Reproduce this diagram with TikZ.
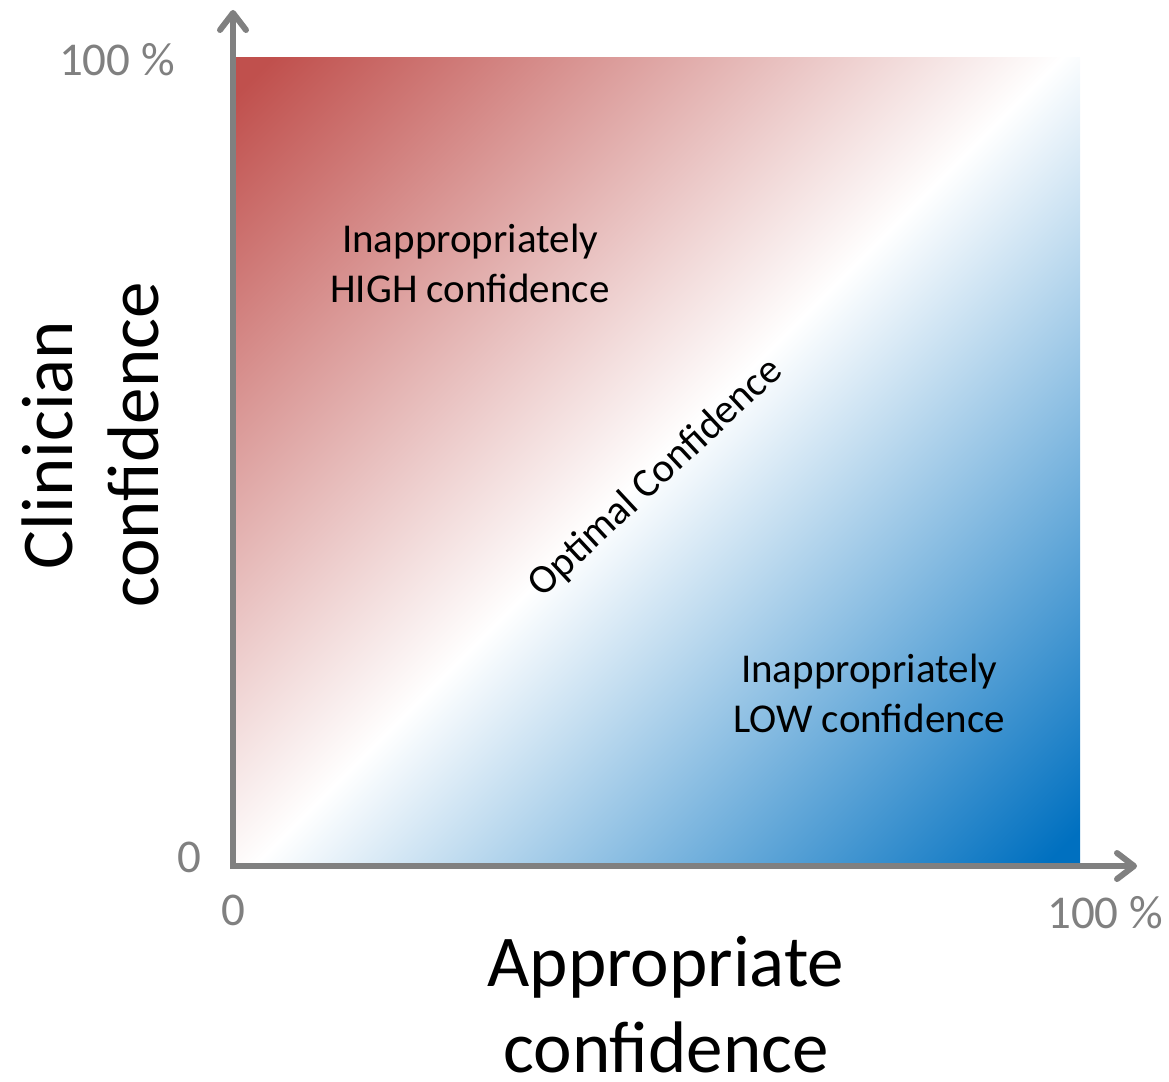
\documentclass[tikz,border=0pt]{standalone}
\usepackage{fontspec}
\setmainfont{Carlito}
\usetikzlibrary{arrows.meta,positioning}
\definecolor{hotred}{RGB}{192,80,77}
\definecolor{coolblue}{RGB}{0,112,192}
\definecolor{axisgray}{RGB}{128,128,128}
% red -> white -> blue, full colour right at the corners
\pgfdeclarehorizontalshading{redwhiteblue}{100bp}{%
  color(0bp)=(hotred); color(16bp)=(hotred); color(50bp)=(white);
  color(84bp)=(coolblue); color(100bp)=(coolblue)}

\begin{document}
\begin{tikzpicture}[x=1pt,y=-1pt,
    axis/.style={line width=6pt,draw=axisgray,line join=miter,
                 {Straight Barb[round,length=17pt,width=26pt]}-{Straight Barb[round,length=17pt,width=26pt]}},
    ticklbl/.style={text=axisgray,font=\fontsize{47}{54}\selectfont,inner sep=0pt},
    region/.style={align=center,font=\fontsize{41}{50}\selectfont,inner sep=0pt},
    axtitle/.style={align=center,font=\fontsize{73}{86}\selectfont,inner sep=0pt},
   ]
    \useasboundingbox (0,0) rectangle (1169,1081);

    % red above the diagonal, blue below it
    \shade[shading=redwhiteblue,shading angle=-45] (236,58) rectangle (1080,866);

    \coordinate (origin) at (233,866);
    \coordinate (ytip)   at (233,10);
    \coordinate (xtip)   at (1137,866);
    \draw[axis] (ytip) -- (origin) -- (xtip);

    \node (ymax)  [ticklbl] at (117,60)  {100 \%};
    \node (ymin)  [ticklbl] at (189,857) {0};
    \node (xmin)  [ticklbl] at (233,910) {0};
    \node (xmax)  [ticklbl] at (1105,913) {100 \%};

    \node (high)  [region] at (470,263) {Inappropriately\\HIGH confidence};
    \node (low)   [region] at (869,693) {Inappropriately\\LOW confidence};
    \node (optim) [region,rotate=43] at (656,478) {Optimal Confidence};

    \node (ytitle) [axtitle,rotate=90] at (90,445)  {Clinician\\confidence};
    \node (xtitle) [axtitle]           at (666,1005) {Appropriate\\confidence};
\end{tikzpicture}
\end{document}
